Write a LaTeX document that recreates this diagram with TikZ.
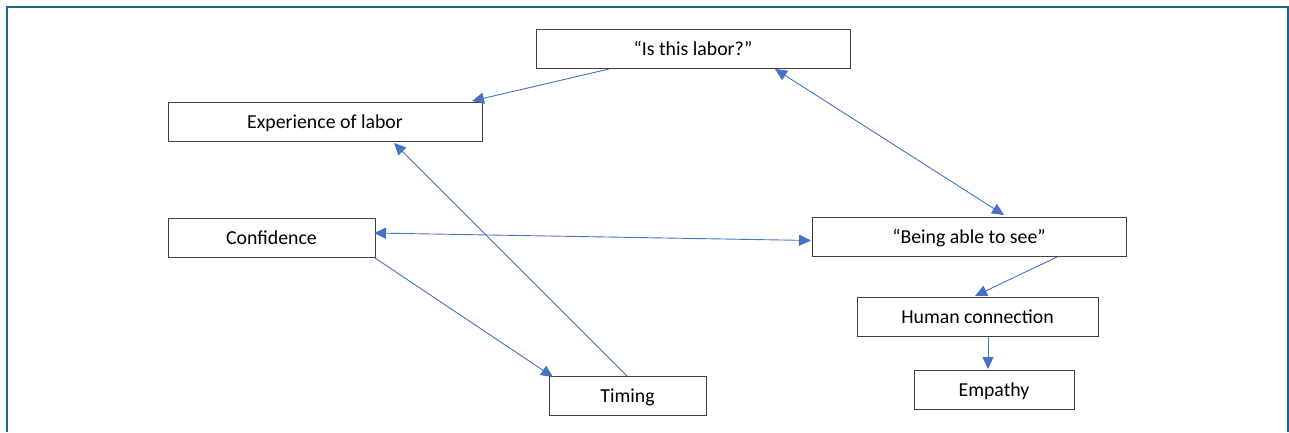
\documentclass[tikz,border=0pt]{standalone}
\usepackage{fontspec}
\setmainfont{Carlito}
\usetikzlibrary{arrows.meta}
\definecolor{arr}{HTML}{4472C4}
\definecolor{frm}{HTML}{1F6391}
\definecolor{bx}{HTML}{404040}
\begin{document}
\begin{tikzpicture}[x=1pt,y=-1pt,
  boxn/.style={draw=bx,line width=1pt,fill=white,font=\fontsize{19.8}{23}\selectfont,inner sep=0pt,text height=17pt,text depth=4pt},
  conn/.style={draw=arr,line width=0.9pt,-{Triangle[length=12pt,width=11pt]}},
  dconn/.style={draw=arr,line width=0.9pt,{Triangle[length=12pt,width=11pt]}-{Triangle[length=12pt,width=11pt]}}]
\useasboundingbox (0,0) rectangle (1289,432);
\draw[frm,line width=2pt] (6.5,432) -- (6.5,6.5) -- (1288,6.5) -- (1288,432);
\node[boxn,minimum width=314pt,minimum height=39pt] (q) at (693,48.5) {“Is this labor?”};
\node[boxn,minimum width=314pt,minimum height=39pt] (exp) at (325,121.5) {Experience of labor};
\node[boxn,minimum width=207pt,minimum height=39pt] (conf) at (271.5,237.5) {Confidence};
\node[boxn,minimum width=314pt,minimum height=39pt] (see) at (969,236.5) {“Being able to see”};
\node[boxn,minimum width=241pt,minimum height=39pt] (hum) at (977.5,316.5) {Human connection};
\node[boxn,minimum width=160pt,minimum height=39pt] (emp) at (994,389.5) {Empathy};
\node[boxn,minimum width=157pt,minimum height=39pt] (tim) at (627.5,395.5) {Timing};
\coordinate (a1) at (609,69);
\coordinate (a2) at (472,101);
\draw[conn] (a1) -- (a2);
\coordinate (b1) at (775,69);
\coordinate (b2) at (1004,215);
\draw[dconn] (b1) -- (b2);
\coordinate (c1) at (374,233);
\coordinate (c2) at (811,240.5);
\draw[dconn] (c1) -- (c2);
\coordinate (d1) at (375,258);
\coordinate (d2) at (553,377);
\draw[conn] (d1) -- (d2);
\coordinate (e1) at (627,376);
\coordinate (e2) at (394,143);
\draw[conn] (e1) -- (e2);
\coordinate (f1) at (1057,257);
\coordinate (f2) at (975,296);
\draw[conn] (f1) -- (f2);
\coordinate (g1) at (988,337);
\coordinate (g2) at (988,369);
\draw[conn] (g1) -- (g2);
\end{tikzpicture}
\end{document}
